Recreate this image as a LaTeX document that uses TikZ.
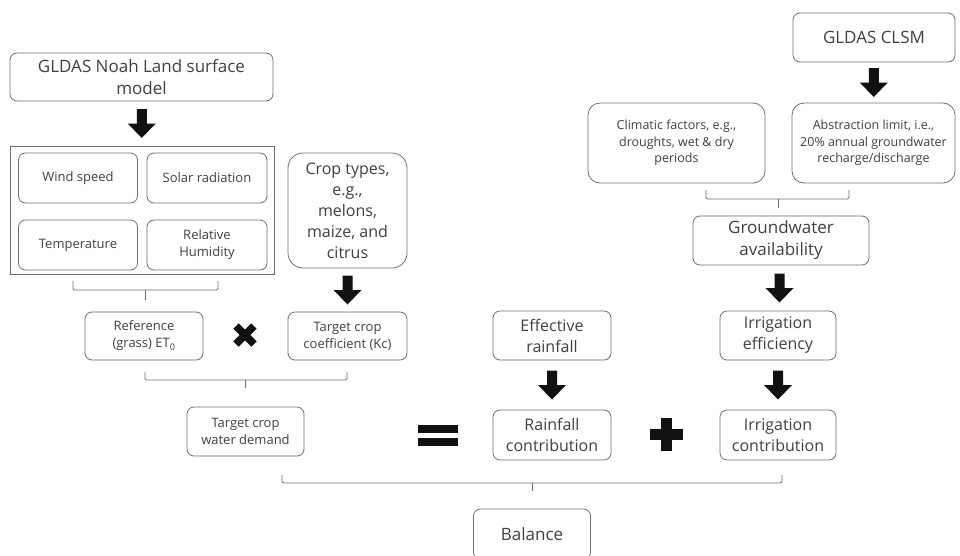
\documentclass[tikz,border=0pt]{standalone}
\usepackage{fontspec}
\setmainfont{Open Sans}
\usetikzlibrary{calc}
\definecolor{bordc}{HTML}{6E6E6E}
\definecolor{txtc}{HTML}{404040}
\definecolor{arrc}{HTML}{111111}
\tikzset{
  box/.style={draw=bordc, line width=0.8pt, rounded corners=7pt, align=center, text=txtc, inner sep=2pt},
  sz/.style 2 args={minimum width=#1pt, minimum height=#2pt},
  fbig/.style={font=\fontsize{17}{22}\selectfont},
  fmid/.style={font=\fontsize{16}{21}\selectfont},
  fsmall/.style={font=\fontsize{13}{17}\selectfont},
  ftiny/.style={font=\fontsize{12.5}{16.5}\selectfont},
  brk/.style={draw=bordc, line width=0.8pt, rounded corners=1.5pt},
  barrow/.pic={\fill[arrc] (-5,-14.5) -- (5,-14.5) -- (5,0) -- (14,0) -- (0,14.5) -- (-14,0) -- (-5,0) -- cycle;}
}
\begin{document}
\begin{tikzpicture}[x=1pt,y=-1pt]
\useasboundingbox (0,0) rectangle (960,555);
\clip (0,0) rectangle (960,555);

% left column
\node[box, fbig, sz={263}{48}] (noah) at (141.5,77) {GLDAS Noah Land surface\\model};
\node[draw=bordc, line width=0.8pt, sz={264}{128}] (cont) at (142,210) {};
\node[box, fsmall, sz={119}{50}] (wind) at (78,178) {Wind speed};
\node[box, fsmall, sz={120}{50}] (solar) at (207,178) {Solar radiation};
\node[box, fsmall, sz={119}{50}] (temp) at (78,245) {Temperature};
\node[box, fsmall, sz={120}{50}] (hum) at (207,245) {Relative\\Humidity};
\node[box, fmid, rounded corners=15pt, sz={119}{115}] (crop) at (347.5,210.5) {Crop types,\\e.g.,\\melons,\\maize, and\\citrus};
\node[box, fsmall, sz={118}{48}] (ref) at (144,336) {Reference\\(grass) ET\textsubscript{0}};
\node[box, fsmall, sz={119}{48}] (kc) at (347.5,336) {Target crop\\coefficient (Kc)};
\node[box, fsmall, sz={117}{49}] (tcwd) at (245.5,431.5) {Target crop\\water demand};

% middle / right
\node[box, fmid, sz={118}{49}] (eff) at (552,335.5) {Effective\\rainfall};
\node[box, fmid, sz={118}{50}] (rain) at (552,435) {Rainfall\\contribution};
\node[box, fmid, sz={116}{49}] (irreff) at (778,335.5) {Irrigation\\efficiency};
\node[box, fmid, sz={116}{50}] (irrc) at (778,435) {Irrigation\\contribution};
\node[box, fbig, sz={176}{49}] (gwa) at (781,240.5) {Groundwater\\availability};
\node[box, ftiny, rounded corners=12pt, sz={177}{80}] (clim) at (676.5,143) {Climatic factors, e.g.,\\droughts, wet \& dry\\periods};
\node[box, ftiny, rounded corners=12pt, sz={163}{80}] (abst) at (873.5,143) {Abstraction limit, i.e.,\\20\% annual groundwater\\recharge/discharge};
\node[box, fbig, sz={162}{49}] (clsm) at (874,37.5) {GLDAS CLSM};
\node[box, fbig, sz={117}{50}] (bal) at (532,534) {Balance};

% block arrows
\path ($(noah.south)!0.5!(cont.north)$) pic {barrow};
\path ($(crop.south)!0.5!(kc.north)$) pic {barrow};
\path ($(clsm.south)!0.5!(abst.north)$) pic {barrow};
\path ($(gwa.south)!0.5!(irreff.north)$) pic {barrow};
\path ($(eff.south)!0.5!(rain.north)$) pic {barrow};
\path ($(irreff.south)!0.5!(irrc.north)$) pic {barrow};

% brackets
\coordinate (b1l) at (73,290); \coordinate (b1r) at (218,290); \coordinate (b1t) at (145,300);
\draw[brk] ([yshift=9pt]b1l) -- (b1l) -- (b1r) -- ([yshift=9pt]b1r);
\draw[brk] (b1l -| b1t) -- (b1t);

\coordinate (b2l) at (145,380); \coordinate (b2r) at (347,380); \coordinate (b2t) at (245,388);
\draw[brk] ([yshift=8pt]b2l) -- (b2l) -- (b2r) -- ([yshift=8pt]b2r);
\draw[brk] (b2l -| b2t) -- (b2t);

\coordinate (b3l) at (706,199); \coordinate (b3r) at (849,199); \coordinate (b3t) at (778,208);
\draw[brk] ([yshift=9pt]b3l) -- (b3l) -- (b3r) -- ([yshift=9pt]b3r);
\draw[brk] (b3l -| b3t) -- (b3t);

\coordinate (b4l) at (282,483); \coordinate (b4r) at (782,483); \coordinate (b4t) at (532,491);
\draw[brk] ([yshift=8pt]b4l) -- (b4l) -- (b4r) -- ([yshift=8pt]b4r);
\draw[brk] (b4l -| b4t) -- (b4t);

% operators
\coordinate (times) at (245,335);
\draw[arrc, line width=7.5pt] ([shift={(-9pt,9pt)}]times) -- ([shift={(9pt,-9pt)}]times);
\draw[arrc, line width=7.5pt] ([shift={(-9pt,-9pt)}]times) -- ([shift={(9pt,9pt)}]times);

\coordinate (plus) at (666,434);
\fill[arrc] ([shift={(-5.5pt,16.5pt)}]plus) rectangle ([shift={(5.5pt,-16.5pt)}]plus);
\fill[arrc] ([shift={(-16.5pt,5.5pt)}]plus) rectangle ([shift={(16.5pt,-5.5pt)}]plus);

\coordinate (eq) at (438,435.5);
\fill[arrc] ([shift={(-20pt,10.5pt)}]eq) rectangle ([shift={(20pt,2.5pt)}]eq);
\fill[arrc] ([shift={(-20pt,-2.5pt)}]eq) rectangle ([shift={(20pt,-10.5pt)}]eq);
\end{tikzpicture}
\end{document}
